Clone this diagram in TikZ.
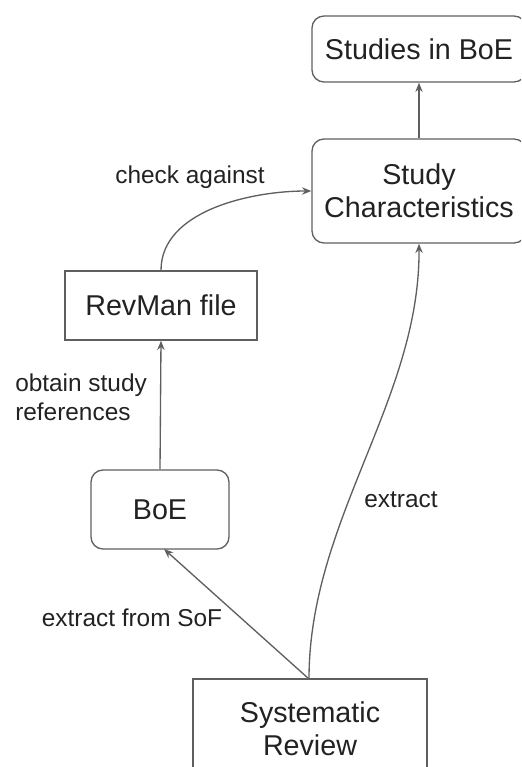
\documentclass[tikz,border=0pt]{standalone}
\usepackage{fontspec}
\setmainfont{Liberation Sans}
\usetikzlibrary{arrows.meta}
\definecolor{linec}{HTML}{5F5F5F}
\definecolor{textc}{HTML}{222222}
\begin{document}
\begin{tikzpicture}[x=0.75pt,y=-0.75pt,
  box/.style={draw=linec, line width=1pt, text=textc, font=\fontsize{21.5}{25}\selectfont, align=center, inner sep=0pt, anchor=center},
  rbox/.style={box, rounded corners=9pt},
  lbl/.style={text=textc, font=\fontsize{18.3}{22}\selectfont, inner sep=0pt},
  conn/.style={draw=linec, line width=1pt, -{Stealth[length=7pt,width=5.5pt]}}]
\useasboundingbox (0,0) rectangle (521,767);
\clip (0,0) rectangle (521,767);
\node[rbox, minimum width=214*0.75pt, minimum height=66*0.75pt] (sib) at (419,49) {Studies in BoE};
\node[rbox, minimum width=214*0.75pt, minimum height=104*0.75pt] (sc) at (419,191) {Study\\Characteristics};
\node[box, minimum width=192*0.75pt, minimum height=69*0.75pt] (rm) at (161,305.5) {RevMan file};
\node[rbox, minimum width=138*0.75pt, minimum height=79*0.75pt] (boe) at (160,509.5) {BoE};
\node[box, minimum width=234*0.75pt, minimum height=100*0.75pt] (sr) at (310,729) {Systematic\\Review};
\coordinate (srtop) at (309,679);
\coordinate (boebot) at (164,549);
\draw[conn] (sc.north) -- (sib.south);
\draw[conn] (rm.north) to[out=90,in=180,looseness=0.9] (sc.west);
\draw[conn] (boe.north) -- (rm.south);
\draw[conn] (srtop) -- (boebot);
\draw[conn] (srtop) .. controls (309,520) and (420,400) .. (sc.south);
\node[lbl] (l1) at (190,177) {check against};
\node[lbl, anchor=west, align=left, font=\fontsize{18.3}{21.8}\selectfont] (l2) at (15,397) {obtain study\\references};
\node[lbl] (l3) at (132,618) {extract from SoF};
\node[lbl] (l4) at (401,500) {extract};
\end{tikzpicture}
\end{document}
